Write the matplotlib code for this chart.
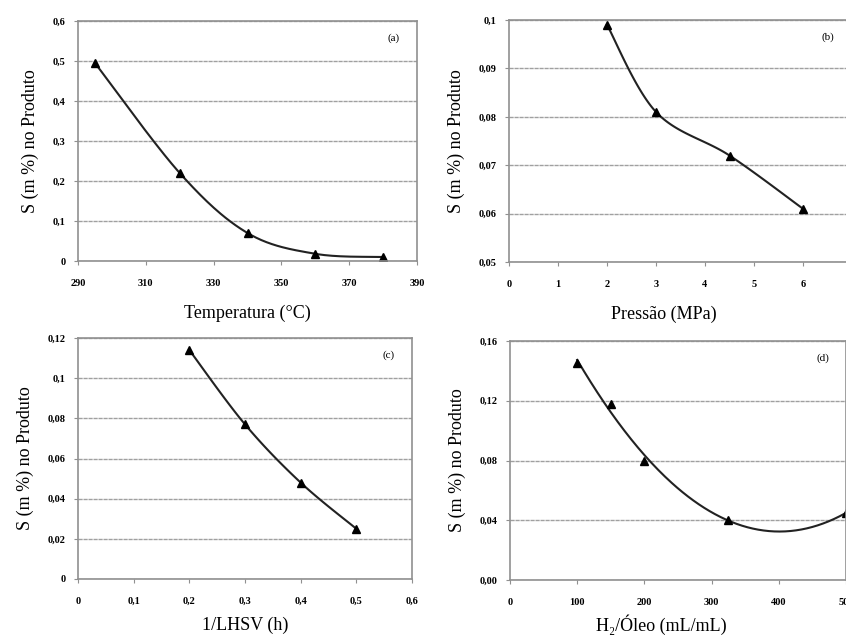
import numpy as np
import matplotlib
matplotlib.use("Agg")
import matplotlib.pyplot as plt
from matplotlib.ticker import FuncFormatter

plt.rcParams['font.family'] = ['Liberation Serif', 'DejaVu Serif']

# data
temp_x = [295, 320, 340, 360, 380]
temp_y = [0.495, 0.22, 0.07, 0.018, 0.01]

press_x = [2, 3, 4.5, 6]
press_y = [0.099, 0.081, 0.072, 0.061]

lhsv_x = [0.2, 0.3, 0.4, 0.5]
lhsv_y = [0.114, 0.077, 0.048, 0.025]

h2_x = [100, 150, 200, 325, 500]
h2_y = [0.145, 0.118, 0.080, 0.040, 0.045]


def smooth(xs, ys, sx, sy, n=40):
    # Excel-like smoothed line: bezier with catmull-rom control points
    px = np.array(xs, float) / sx
    py = np.array(ys, float) / sy
    outx, outy = [], []
    m = len(px)
    for i in range(m - 1):
        p0 = np.array([px[max(i - 1, 0)], py[max(i - 1, 0)]])
        p1 = np.array([px[i], py[i]])
        p2 = np.array([px[i + 1], py[i + 1]])
        p3 = np.array([px[min(i + 2, m - 1)], py[min(i + 2, m - 1)]])
        c1 = p1 + (p2 - p0) / 6
        c2 = p2 - (p3 - p1) / 6
        t = np.linspace(0, 1, n)[:, None]
        b = ((1 - t) ** 3) * p1 + 3 * ((1 - t) ** 2) * t * c1 + 3 * (1 - t) * t ** 2 * c2 + t ** 3 * p2
        outx.extend(b[:, 0])
        outy.extend(b[:, 1])
    return np.array(outx) * sx, np.array(outy) * sy


num = FuncFormatter(lambda v, p: ('%g' % round(v, 2)).replace('.', ','))
ints = FuncFormatter(lambda v, p: '%d' % round(v))
two = FuncFormatter(lambda v, p: ('%.2f' % v).replace('.', ','))

fig = plt.figure(figsize=(8.46, 6.41), dpi=100)
W, H = 846, 641


def make_ax(l, t, r, b):
    return fig.add_axes([l / W, 1 - b / H, (r - l) / W, (b - t) / H])


def style(ax, xlim, ylim, xt, yt, xf, yf, xlabel, tag, lpad=12):
    ax.set_xlim(*xlim)
    ax.set_ylim(*ylim)
    ax.set_xticks(xt)
    ax.set_yticks(yt)
    ax.xaxis.set_major_formatter(xf)
    ax.yaxis.set_major_formatter(yf)
    ax.grid(axis='y', color='#a0a0a0', lw=1.0, ls=(0, (3, 0.6)))
    ax.set_axisbelow(True)
    for s in ax.spines.values():
        s.set_color('#909090')
        s.set_linewidth(1.2)
    ax.tick_params(direction='out', length=3, color='#909090', labelsize=7.5)
    ax.tick_params(axis='x', pad=10)
    ax.tick_params(axis='y', pad=6)
    for lab in ax.get_xticklabels() + ax.get_yticklabels():
        lab.set_fontweight('bold')
    ax.set_xlabel(xlabel, fontsize=13, labelpad=lpad)
    ax.set_ylabel('S (m %) no Produto', fontsize=13, labelpad=10)
    ax.text(0.93, 0.93, tag, transform=ax.transAxes, fontsize=8, ha='center', va='center')


# (a)
ax = make_ax(78, 21, 417, 261)
sx, sy = smooth(temp_x, temp_y, 100, 0.6)
ax.plot(sx, sy, color='#222222', lw=1.5)
ax.plot(temp_x, temp_y, '^', color='black', ms=6)
style(ax, (290, 390), (0, 0.6), np.arange(290, 391, 20), np.arange(0, 0.61, 0.1),
      ints, num, 'Temperatura (°C)', '(a)')

# (b)
ax = make_ax(509, 20, 852, 262)
sx, sy = smooth(press_x, press_y, 7, 0.05)
ax.plot(sx, sy, color='#222222', lw=1.5)
ax.plot(press_x, press_y, '^', color='black', ms=6)
style(ax, (0, 7), (0.05, 0.1), np.arange(0, 7, 1), np.arange(0.05, 0.101, 0.01),
      ints, num, 'Pressão (MPa)', '(b)')
ax.xaxis.label.set_x(0.45)

# (c)
ax = make_ax(78, 338, 412, 579)
sx, sy = smooth(lhsv_x, lhsv_y, 0.6, 0.12)
ax.plot(sx, sy, color='#222222', lw=1.5)
ax.plot(lhsv_x, lhsv_y, '^', color='black', ms=6)
style(ax, (0, 0.6), (0, 0.12), np.arange(0, 0.61, 0.1), np.arange(0, 0.121, 0.02),
      num, num, '1/LHSV (h)', '(c)', lpad=8)

# (d) quadratic trend line
ax = make_ax(510, 341, 846, 580)
coef = np.polyfit(h2_x, h2_y, 2)
xx = np.linspace(min(h2_x), max(h2_x), 200)
ax.plot(xx, np.polyval(coef, xx), color='#222222', lw=1.5)
ax.plot(h2_x, h2_y, '^', color='black', ms=6, clip_on=False)
style(ax, (0, 500), (0, 0.16), np.arange(0, 501, 100), np.arange(0, 0.161, 0.04),
      ints, two, 'H₂/Óleo (mL/mL)', '(d)', lpad=5)
ax.xaxis.label.set_x(0.45)

fig.savefig('out.png', dpi=100)
